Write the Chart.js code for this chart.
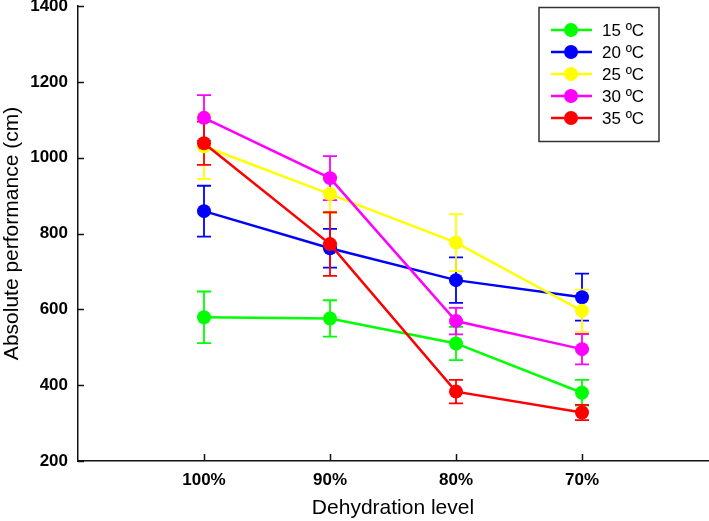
<!DOCTYPE html>
<html>
<head>
<meta charset="utf-8">
<script src="https://cdn.jsdelivr.net/npm/chart.js@4"></script>
<style>
  html, body { margin: 0; padding: 0; background: #fff; }
  #wrap { width: 709px; height: 521px; }
</style>
</head>
<body>
<div id="wrap"><canvas id="chart" width="709" height="521"></canvas></div>
<script>
var categories = ['100%', '90%', '80%', '70%'];
var seriesLabels = ['15 ºC', '20 ºC', '25 ºC', '30 ºC', '35 ºC'];
var yTicks = [200, 400, 600, 800, 1000, 1200, 1400];

var temp15 = [579, 576, 510, 380];
var temp20 = [859, 761, 677, 632];
var temp25 = [1030, 904, 776, 596];
var temp30 = [1105, 946, 569, 495];
var temp35 = [1038, 772, 383, 328];

var err15 = [68, 48, 44, 34];
var err20 = [67, 51, 60, 62];
var err25 = [86, 50, 75, 56];
var err30 = [60, 58, 35, 40];
var err35 = [57, 84, 31, 20];

var seriesValues = [temp15, temp20, temp25, temp30, temp35];
var seriesErrors = [err15, err20, err25, err30, err35];
var seriesColors = ['#00ff00', '#0000ff', '#ffff00', '#ff00ff', '#ff0000'];

var FONT = "'Liberation Sans', Arial, sans-serif";

var datasets = seriesValues.map(function (vals, i) {
  return {
    label: seriesLabels[i],
    data: vals.map(function (v, j) { return { x: j, y: v }; }),
    errors: seriesErrors[i],
    borderColor: seriesColors[i],
    backgroundColor: seriesColors[i],
    pointBackgroundColor: seriesColors[i],
    pointBorderWidth: 0,
    pointRadius: 7,
    pointHoverRadius: 7,
    borderWidth: 2.5,
    tension: 0,
    order: seriesValues.length - i
  };
});

// error bars, drawn under the lines and points
var errorBars = {
  id: 'errorBars',
  beforeDatasetsDraw: function (chart) {
    var ctx = chart.ctx;
    var xs = chart.scales.x, ys = chart.scales.y;
    ctx.save();
    ctx.lineWidth = 1.8;
    chart.data.datasets.forEach(function (ds) {
      ctx.strokeStyle = ds.borderColor;
      ds.data.forEach(function (p, j) {
        var px = xs.getPixelForValue(p.x);
        var top = ys.getPixelForValue(p.y + ds.errors[j]);
        var bot = ys.getPixelForValue(p.y - ds.errors[j]);
        ctx.beginPath();
        ctx.moveTo(px, top); ctx.lineTo(px, bot);
        ctx.moveTo(px - 7, top); ctx.lineTo(px + 7, top);
        ctx.moveTo(px - 7, bot); ctx.lineTo(px + 7, bot);
        ctx.stroke();
      });
    });
    ctx.restore();
  }
};

// inward tick marks and the boxed legend
var decorations = {
  id: 'decorations',
  afterDraw: function (chart) {
    var ctx = chart.ctx;
    var xs = chart.scales.x, ys = chart.scales.y;
    var area = chart.chartArea;
    ctx.save();
    ctx.strokeStyle = '#111';
    ctx.lineWidth = 1.5;
    ctx.beginPath();
    categories.forEach(function (c, j) {
      var px = Math.round(xs.getPixelForValue(j)) + 0.5;
      ctx.moveTo(px, area.bottom); ctx.lineTo(px, area.bottom - 7);
    });
    yTicks.forEach(function (t) {
      var py = Math.round(ys.getPixelForValue(t)) + 0.5;
      ctx.moveTo(area.left, py); ctx.lineTo(area.left + 6, py);
    });
    ctx.stroke();

    // legend
    ctx.strokeStyle = '#333';
    ctx.lineWidth = 1.5;
    ctx.strokeRect(539, 7.5, 120, 134);
    ctx.font = '17px ' + FONT;
    ctx.textBaseline = 'middle';
    ctx.textAlign = 'left';
    chart.data.datasets.forEach(function (ds, i) {
      var cy = 30 + i * 22;
      ctx.strokeStyle = ds.borderColor;
      ctx.lineWidth = 2.5;
      ctx.beginPath();
      ctx.moveTo(551, cy); ctx.lineTo(592, cy);
      ctx.stroke();
      ctx.fillStyle = ds.borderColor;
      ctx.beginPath();
      ctx.arc(571, cy, 7, 0, Math.PI * 2);
      ctx.fill();
      ctx.fillStyle = '#000';
      ctx.fillText(ds.label, 602, cy + 1);
    });
    ctx.restore();
  }
};

new Chart(document.getElementById('chart'), {
  type: 'line',
  data: { datasets: datasets },
  options: {
    responsive: false,
    animation: false,
    events: [],
    layout: { autoPadding: false, padding: { top: 6, right: 1, left: 0, bottom: 0 } },
    plugins: {
      legend: { display: false },
      tooltip: { enabled: false }
    },
    scales: {
      x: {
        type: 'linear',
        min: -1,
        max: 4,
        afterBuildTicks: function (scale) {
          scale.ticks = categories.map(function (c, j) { return { value: j }; });
        },
        afterFit: function (scale) {
          scale.height = 60;
          scale.paddingLeft = 0;
          scale.paddingRight = 0;
        },
        ticks: {
          autoSkip: false,
          maxRotation: 0,
          padding: 9,
          color: '#000',
          font: { family: FONT, size: 17, weight: 'bold' },
          callback: function (v) { return categories[v]; }
        },
        grid: { drawOnChartArea: false, drawTicks: false },
        border: { display: true, color: '#111', width: 1.5 },
        title: {
          display: true,
          text: 'Dehydration level',
          color: '#000',
          padding: 0,
          font: { family: FONT, size: 21 }
        }
      },
      y: {
        min: 200,
        max: 1400,
        afterBuildTicks: function (scale) {
          scale.ticks = yTicks.map(function (t) { return { value: t }; });
        },
        afterFit: function (scale) {
          scale.width = 78;
          scale.paddingTop = 0;
          scale.paddingBottom = 0;
        },
        ticks: {
          padding: 10,
          color: '#000',
          font: { family: FONT, size: 17, weight: 'bold' },
          callback: function (v) { return String(v); }
        },
        grid: { drawOnChartArea: false, drawTicks: false },
        border: { display: true, color: '#111', width: 1.5 },
        title: {
          display: true,
          text: 'Absolute performance (cm)',
          color: '#000',
          padding: 0,
          font: { family: FONT, size: 21 }
        }
      }
    }
  },
  plugins: [errorBars, decorations]
});
</script>
</body>
</html>
